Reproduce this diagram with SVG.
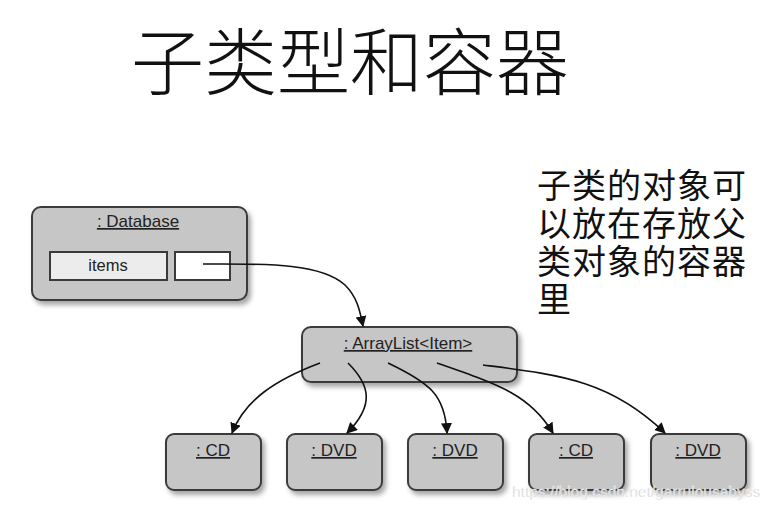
<svg xmlns="http://www.w3.org/2000/svg" width="775" height="512" viewBox="0 0 775 512">
<defs>
<filter id="sh" x="-10%" y="-10%" width="130%" height="140%">
<feDropShadow dx="3" dy="4" stdDeviation="2.5" flood-color="#000" flood-opacity="0.35"/>
</filter>
<marker id="arr" viewBox="0 0 10 10" refX="9" refY="5" markerWidth="11" markerHeight="11" markerUnits="userSpaceOnUse" orient="auto">
<path d="M0,0 L10,5 L0,10 z" fill="#111"/>
</marker>
</defs>
<style>
.box{fill:#c6c6c6;stroke:#3a3a3a;stroke-width:2}
.lbl{font-family:"Liberation Sans",Arial,sans-serif;font-size:17px;fill:#222;text-anchor:middle;text-decoration:underline}
.cjk{font-family:"Noto Sans CJK SC","Noto Sans",sans-serif;fill:#111}
.con{fill:none;stroke:#111;stroke-width:1.6;marker-end:url(#arr)}
</style>
<rect width="775" height="512" fill="#fff"/>
<text class="cjk" x="131" y="89" font-size="73" font-weight="300">子类型和容器</text>
<g class="cjk" font-size="34" letter-spacing="1">
<text x="537" y="198">子类的对象可</text>
<text x="537" y="236">以放在存放父</text>
<text x="537" y="274">类对象的容器</text>
<text x="537" y="312">里</text>
</g>
<g id="database">
<rect class="box" x="32" y="207" width="215" height="93" rx="9" filter="url(#sh)"/>
<text class="lbl" x="138" y="227">: Database</text>
<rect x="50" y="252" width="117" height="28" fill="#ececec" stroke="#3a3a3a" stroke-width="2"/>
<text x="108" y="271" font-family="Liberation Sans,Arial,sans-serif" font-size="16.5" fill="#222" text-anchor="middle">items</text>
<rect x="175" y="252" width="55" height="28" fill="#fff" stroke="#3a3a3a" stroke-width="2"/>
</g>
<g id="arraylist">
<rect class="box" x="302" y="327" width="215" height="55" rx="9" filter="url(#sh)"/>
<text class="lbl" x="408" y="349">: ArrayList&lt;Item&gt;</text>
</g>
<g id="cd1"><rect class="box" x="166" y="434" width="95" height="56" rx="8" filter="url(#sh)"/><text class="lbl" x="213" y="456">: CD</text></g>
<g id="dvd1"><rect class="box" x="287" y="434" width="95" height="56" rx="8" filter="url(#sh)"/><text class="lbl" x="334" y="456">: DVD</text></g>
<g id="dvd2"><rect class="box" x="408" y="434" width="95" height="56" rx="8" filter="url(#sh)"/><text class="lbl" x="455" y="456">: DVD</text></g>
<g id="cd2"><rect class="box" x="529" y="434" width="95" height="56" rx="8" filter="url(#sh)"/><text class="lbl" x="576" y="456">: CD</text></g>
<g id="dvd3"><rect class="box" x="651" y="434" width="95" height="56" rx="8" filter="url(#sh)"/><text class="lbl" x="698" y="456">: DVD</text></g>
<g id="connectors">
<path class="con" d="M203,264 C260,264 320,262 345,285 C358,298 360,312 363,326"/>
<path class="con" d="M320,363 C275,380 245,400 232,433"/>
<path class="con" d="M348,363 C370,385 375,405 347,433"/>
<path class="con" d="M388,363 C430,383 445,395 447,433"/>
<path class="con" d="M437,363 C500,385 530,395 553,433"/>
<path class="con" d="M483,365 C560,375 610,380 665,433"/>
</g>
<text x="512" y="497" font-family="Liberation Sans,Arial,sans-serif" font-size="15.5" fill="#d4d4d4" stroke="#fff" stroke-width="0.3">https://blog.csdn.net/garrulousabyss</text>
</svg>
